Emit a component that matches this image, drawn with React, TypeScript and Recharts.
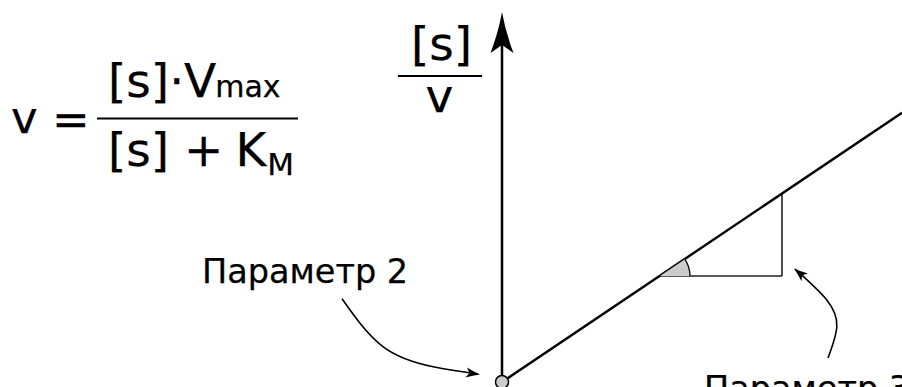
import { ComposedChart, Line, Scatter, XAxis, YAxis, ReferenceLine, ReferenceDot } from "recharts";

// Hanes–Woolf plot: [s]/v against [s] (schematic units)
const lineS = [0, 10];
const lineRatio = [0, 6.73];

// slope triangle on the line
const triS = [3.95, 7.0];
const triRatio = [2.65, 4.7];

// y axis extent and arrow tip
const axisBottom = -0.2;
const axisTop = 8.6;
const axisTip = 9.25;

// annotation arrows (pointer curves)
const param2S = [-4.0, -2.97, -1.72, -0.6];
const param2R = [2.08, 0.88, 0.38, 0.2];
const param3S = [8.15, 8.37, 8.12, 7.33];
const param3R = [0.6, 1.38, 2.05, 2.82];

const hwData = lineS.map((s, i) => ({ x: s, y: lineRatio[i] }));
const p2Data = param2S.map((s, i) => ({ x: s, y: param2R[i] }));
const p3Data = param3S.map((s, i) => ({ x: s, y: param3R[i] }));

const FONT = "DejaVu Sans, Verdana, sans-serif";

function ArrowHead(props: any) {
  const { cx, cy, angle, big } = props;
  if (cx == null || cy == null) return null;
  const d = big
    ? "M0,0 Q-20,-3.5 -41,-11.5 L-33,0 L-41,11.5 Q-20,3.5 0,0 Z"
    : "M0,0 Q-7,-2 -14,-5 L-10.5,0 L-14,5 Q-7,2 0,0 Z";
  return <path d={d} fill="#000" transform={`translate(${cx},${cy}) rotate(${angle})`} />;
}

function AngleMark(props: any) {
  const { cx, cy } = props;
  if (cx == null || cy == null) return null;
  const r = 30;
  const a = Math.atan((lineRatio[1] - lineRatio[0]) / (lineS[1] - lineS[0]));
  const ex = cx + r * Math.cos(a);
  const ey = cy - r * Math.sin(a);
  return (
    <g>
      <path d={`M${cx},${cy} L${cx + r},${cy} A${r},${r} 0 0 0 ${ex},${ey} Z`} fill="#cccccc" stroke="none" />
      <path d={`M${cx + r},${cy} A${r},${r} 0 0 0 ${ex},${ey}`} fill="none" stroke="#000" strokeWidth={1.3} />
    </g>
  );
}

const noPoint = () => <g />;

export default function App() {
  return (
    <div style={{ position: "absolute", left: 0, top: 0, width: 902, height: 387, background: "#fff" }}>
      <ComposedChart width={902} height={387} margin={{ top: 0, right: 0, bottom: 0, left: 0 }}>
        <XAxis type="number" dataKey="x" domain={[-12.55, 10]} hide allowDataOverflow />
        <YAxis type="number" dataKey="y" domain={[-0.125, 9.55]} hide allowDataOverflow />

        <ReferenceLine
          segment={[{ x: 0, y: axisBottom }, { x: 0, y: axisTop }]}
          stroke="#000"
          strokeWidth={2.5}
          ifOverflow="visible"
        />
        <ReferenceDot x={0} y={axisTip} shape={(p: any) => <ArrowHead {...p} angle={-90} big />} />

        <ReferenceDot x={triS[0]} y={triRatio[0]} shape={(p: any) => <AngleMark {...p} />} />
        <ReferenceLine
          segment={[{ x: triS[0], y: triRatio[0] }, { x: triS[1], y: triRatio[0] }]}
          stroke="#222"
          strokeWidth={1.6}
        />
        <ReferenceLine
          segment={[{ x: triS[1], y: triRatio[0] }, { x: triS[1], y: triRatio[1] }]}
          stroke="#222"
          strokeWidth={1.6}
        />

        <Line data={hwData} dataKey="y" type="linear" stroke="#000" strokeWidth={2.4} dot={false} activeDot={false} isAnimationActive={false} />
        <Scatter
          data={p2Data}
          line={{ stroke: "#000", strokeWidth: 1.6 }}
          lineJointType="natural"
          shape={noPoint}
          isAnimationActive={false}
        />
        <Scatter
          data={p3Data}
          line={{ stroke: "#000", strokeWidth: 1.6 }}
          lineJointType="natural"
          shape={noPoint}
          isAnimationActive={false}
        />

        <ReferenceDot x={param2S[3] + 0.05} y={param2R[3] - 0.01} shape={(p: any) => <ArrowHead {...p} angle={8} />} />
        <ReferenceDot x={param3S[3] - 0.03} y={param3R[3] + 0.02} shape={(p: any) => <ArrowHead {...p} angle={-140} />} />

        <ReferenceDot x={0} y={0} r={6.5} fill="#cccccc" stroke="#000" strokeWidth={1.5} ifOverflow="visible" />
      </ComposedChart>

      <svg
        width={902}
        height={387}
        style={{ position: "absolute", left: 0, top: 0, pointerEvents: "none" }}
        fontFamily={FONT}
        fill="#000"
        stroke="#000"
        strokeWidth={0.25}
      >
        {/* v = [s]·Vmax / ([s] + KM) */}
        <text x={11} y={133} fontSize={45}>
          v<tspan dy={2}> =</tspan>
        </text>
        <line x1={97} y1={118.5} x2={298} y2={118.5} strokeWidth={2.2} />

        <text x={108} y={97} fontSize={47}>
          [s]·V<tspan fontSize={30} dx={-1}>max</tspan>
        </text>
        <text x={108} y={166} fontSize={47}>
          [s] + <tspan dx={-3}>K</tspan>
          <tspan fontSize={31} dx={1} dy={9}>M</tspan>
        </text>

        {/* y axis label [s]/v */}
        <text x={411} y={60} fontSize={47}>[s]</text>
        <line x1={398} y1={76} x2={482} y2={76} strokeWidth={2} />
        <text x={425.5} y={112} fontSize={47}>v</text>

        <text x={202} y={283} fontSize={33.5}>Параметр 2</text>
        <text x={704} y={400} fontSize={33.5}>Параметр 3</text>
      </svg>
    </div>
  );
}
